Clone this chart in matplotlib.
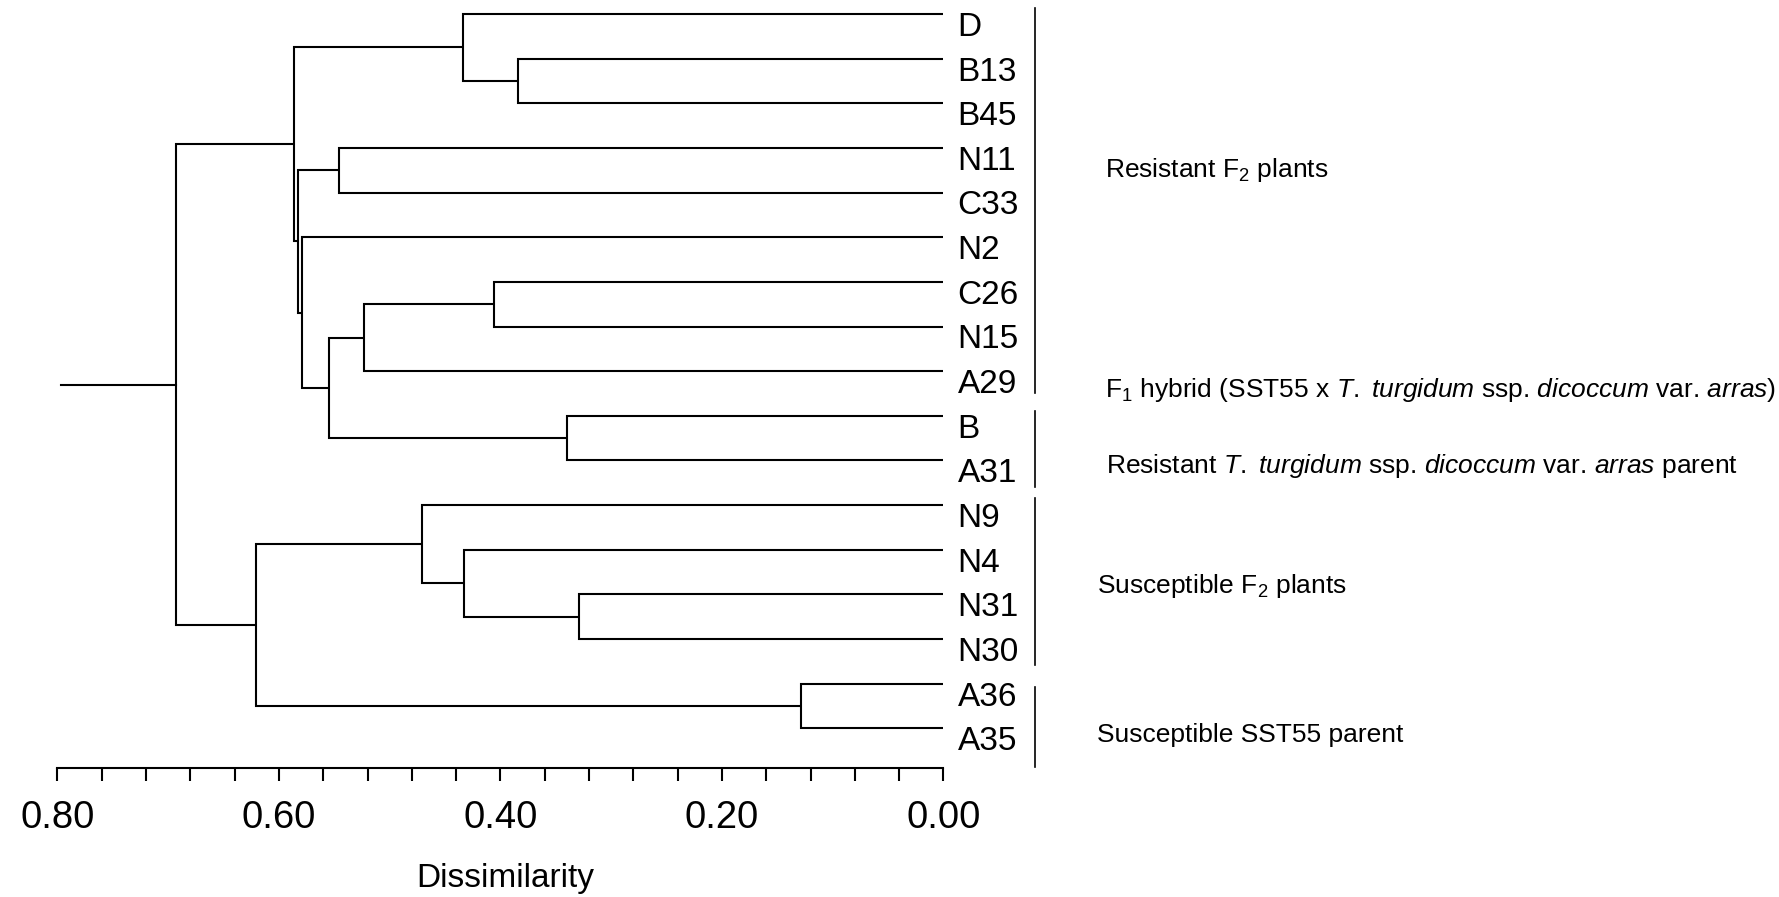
import matplotlib
matplotlib.use('Agg')
import matplotlib.pyplot as plt
from matplotlib.ticker import FixedLocator, FixedFormatter

plt.rcParams['font.family'] = ['Liberation Sans', 'DejaVu Sans']
plt.rcParams['mathtext.fontset'] = 'custom'
plt.rcParams['mathtext.rm'] = 'Liberation Sans'
plt.rcParams['mathtext.it'] = 'Liberation Sans:italic'
plt.rcParams['mathtext.bf'] = 'Liberation Sans:bold'

# ---------------- data ----------------
leaf_labels = ['D', 'B13', 'B45', 'N11', 'C33', 'N2', 'C26', 'N15', 'A29',
               'B', 'A31', 'N9', 'N4', 'N31', 'N30', 'A36', 'A35']
# linkage (scipy-like): new clusters numbered from len(leaf_labels)
merge_a = [15, 13, 9, 1, 6, 12, 0, 11, 21, 3, 25, 5, 26, 23, 24, 30]
merge_b = [16, 14, 10, 2, 7, 18, 20, 22, 8, 4, 19, 27, 28, 29, 17, 31]
merge_height = [0.129, 0.329, 0.340, 0.384, 0.406, 0.433, 0.434, 0.471,
                0.523, 0.546, 0.555, 0.579, 0.583, 0.586, 0.621, 0.693]
root_stub = 0.797

group_labels = [
    r'Resistant F$_2$ plants',
    r'F$_1$ hybrid (SST55 x $\mathit{T.}$ $\mathit{turgidum}$ ssp. $\mathit{dicoccum}$ var. $\mathit{arras}$)',
    r'Resistant $\mathit{T.}$ $\mathit{turgidum}$ ssp. $\mathit{dicoccum}$ var. $\mathit{arras}$ parent',
    r'Susceptible F$_2$ plants',
    r'Susceptible SST55 parent',
]
major_ticks = [0.0, 0.2, 0.4, 0.6, 0.8]
major_tick_labels = ['0.00', '0.20', '0.40', '0.60', '0.80']
minor_ticks = [0.04, 0.08, 0.12, 0.16, 0.24, 0.28, 0.32, 0.36,
               0.44, 0.48, 0.52, 0.56, 0.64, 0.68, 0.72, 0.76]
x_label = 'Dissimilarity'

# ---------------- figure ----------------
W, H = 1779, 897
fig = plt.figure(figsize=(W / 100, H / 100), dpi=100)
fig.patch.set_facecolor('white')

left_px, right_px = 57.4, 943.4
top_px, bottom_px = 14.0, 768.3
ax = fig.add_axes([left_px / W, 1 - bottom_px / H,
                   (right_px - left_px) / W, (bottom_px - top_px) / H])
ax.set_xlim(0.8, 0.0)
ax.set_ylim(16.896, 0)

LW = 1.5
n = len(leaf_labels)
pos = {i: (0.0, float(i)) for i in range(n)}
for k, (a, b, h) in enumerate(zip(merge_a, merge_b, merge_height)):
    ha_, ya = pos[a]
    hb, yb = pos[b]
    ax.plot([ha_, h, h, hb], [ya, ya, yb, yb], color='black', lw=LW,
            clip_on=False, solid_joinstyle='miter', solid_capstyle='butt')
    pos[n + k] = (h, (ya + yb) / 2.0)
rh, ry = pos[n + len(merge_height) - 1]
ax.plot([rh, root_stub], [ry, ry], color='black', lw=LW, clip_on=False)

# leaf labels
for i, lab in enumerate(leaf_labels):
    ax.text(-0.0128, i + 0.30, lab, fontsize=24, ha='left', va='center',
            clip_on=False)

# bracket bars
bar_x = -0.0827
bar_spans = [(-0.13, 8.5), (8.9, 10.6), (10.85, 14.58), (15.07, 16.86)]
for y0, y1 in bar_spans:
    ax.plot([bar_x, bar_x], [y0, y1], color='black', lw=1.2, clip_on=False)

# group labels
group_x = [-0.146, -0.146, -0.147, -0.139, -0.139]
group_y = [3.49, 8.42, 10.13, 12.81, 16.15]
for gx, gy, txt in zip(group_x, group_y, group_labels):
    ax.text(gx, gy, txt, fontsize=19, ha='left', va='center', clip_on=False)

# axis
for s in ['left', 'right', 'top']:
    ax.spines[s].set_visible(False)
ax.spines['bottom'].set_linewidth(LW)
ax.spines['bottom'].set_bounds(0.0, 0.8)
ax.yaxis.set_visible(False)
ax.xaxis.set_major_locator(FixedLocator(major_ticks))
ax.xaxis.set_major_formatter(FixedFormatter(major_tick_labels))
ax.xaxis.set_minor_locator(FixedLocator(minor_ticks))
ax.tick_params(axis='x', which='both', direction='out', length=9.5, width=LW,
               colors='black')
ax.tick_params(axis='x', which='major', labelsize=27.5, pad=13)
ax.set_facecolor('none')

fig.text(505 / W, 1 - 878 / H, x_label, fontsize=24, ha='center', va='center')

fig.savefig('out.png', dpi=100, facecolor='white')
